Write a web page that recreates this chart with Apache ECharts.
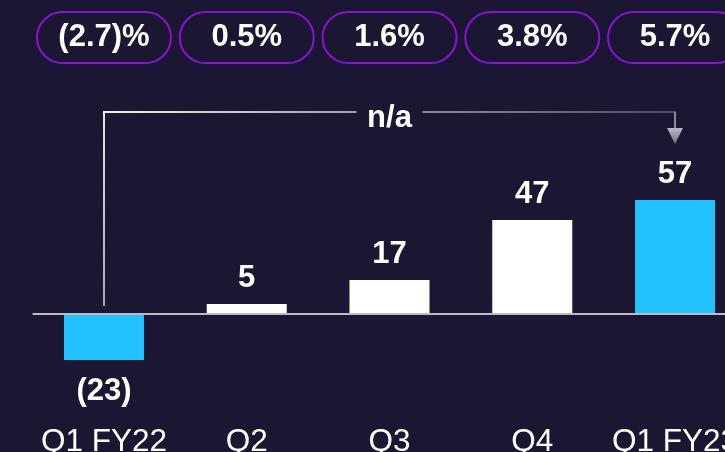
<!DOCTYPE html>
<html><head><meta charset="utf-8">
<script src="https://cdn.jsdelivr.net/npm/echarts@6/dist/echarts.min.js"></script>
<style>html,body{margin:0;padding:0;background:#1b1632;}#c{width:725px;height:452px;}</style>
</head><body><div id="c"></div>
<script>
const categories = ['Q1 FY22', 'Q2', 'Q3', 'Q4', 'Q1 FY23'];
const values = [-23, 5, 17, 47, 57];
const growthLabels = ['(2.7)%', '0.5%', '1.6%', '3.8%', '5.7%'];
const bracketLabel = 'n/a';

const BG = '#1b1632';
const CYAN = '#22c1ff';
const FONT = '"Liberation Sans", Arial, sans-serif';

const chart = echarts.init(document.getElementById('c'), null, {renderer: 'canvas'});
const n = values.length;
const barData = values.map((v, i) => ({
  value: v,
  itemStyle: {color: (i === 0 || i === n - 1) ? CYAN : '#ffffff'},
  label: {position: v < 0 ? 'bottom' : 'top', distance: v < 0 ? 16 : 10}
}));

chart.setOption({
  backgroundColor: BG,
  animation: false,
  grid: {left: 32.6, right: -21.4, top: 114, bottom: 38, containLabel: false, outerBoundsMode: 'none'},
  xAxis: [{
    type: 'category', data: categories, position: 'bottom',
    axisLine: {show: false, onZero: false},
    axisTick: {show: false},
    axisLabel: {interval: 0, color: '#ffffff', fontFamily: FONT, fontSize: 31.5, margin: 12, hideOverlap: false}
  }, {
    type: 'category', data: growthLabels, position: 'top',
    axisLine: {show: false}, axisTick: {show: false},
    axisLabel: {
      interval: 0, color: '#ffffff', fontFamily: FONT, fontSize: 31, fontWeight: 'bold',
      width: 132, align: 'center', lineHeight: 33, padding: [8, 0, 8, 0],
      borderColor: '#8a12d8', borderWidth: 2, borderRadius: 26, backgroundColor: BG,
      margin: 52
    }
  }],
  yAxis: {type: 'value', min: -50, max: 100, show: false, splitLine: {show: false}},
  series: [{
    type: 'bar', data: barData, barWidth: 80, xAxisIndex: 0,
    label: {
      show: true, color: '#ffffff', fontFamily: FONT, fontSize: 31, fontWeight: 'bold',
      formatter: p => p.value < 0 ? '(' + Math.abs(p.value) + ')' : String(p.value)
    },
    markLine: {
      silent: true, symbol: 'none', label: {show: false},
      lineStyle: {color: '#bdbac8', width: 2, type: 'solid'},
      data: [{yAxis: 0}]
    }
  }]
});

const x0 = chart.convertToPixel({xAxisIndex: 0}, categories[0]);
const x4 = chart.convertToPixel({xAxisIndex: 0}, categories[n - 1]);
const yZero = chart.convertToPixel({yAxisIndex: 0}, 0);
const yTop = chart.convertToPixel({yAxisIndex: 0}, 100) - 2;
const xm = (x0 + x4) / 2;
const G = echarts.graphic;

chart.setOption({
  graphic: [
    {type: 'line', shape: {x1: x0, y1: yZero - 8, x2: x0, y2: yTop}, style: {stroke: new G.LinearGradient(0, 1, 0, 0, [{offset: 0, color: '#a8a5b6'}, {offset: 1, color: '#e6e5ea'}]), lineWidth: 2}},
    {type: 'line', shape: {x1: x0 - 1, y1: yTop, x2: xm - 33, y2: yTop}, style: {stroke: new G.LinearGradient(0, 0, 1, 0, [{offset: 0, color: '#f2f2f4'}, {offset: 1, color: '#a19eae'}]), lineWidth: 2}},
    {type: 'text', x: xm, y: yTop + 6, style: {text: bracketLabel, fill: '#ffffff', font: 'bold 31px ' + FONT, align: 'center', verticalAlign: 'middle'}},
    {type: 'line', shape: {x1: xm + 33, y1: yTop, x2: x4 + 1, y2: yTop}, style: {stroke: new G.LinearGradient(0, 0, 1, 0, [{offset: 0, color: '#8e8b9d'}, {offset: 1, color: '#4e4965'}]), lineWidth: 2}},
    {type: 'line', shape: {x1: x4, y1: yTop, x2: x4, y2: yTop + 17}, style: {stroke: '#8e8b9d', lineWidth: 2}},
    {type: 'polygon', shape: {points: [[x4 - 8, yTop + 16], [x4 + 8, yTop + 16], [x4, yTop + 32]]}, style: {fill: new G.LinearGradient(0, 0, 0, 1, [{offset: 0, color: '#bdbbc7'}, {offset: 1, color: '#6f6b82'}])}}
  ]
});
</script>
</body></html>
